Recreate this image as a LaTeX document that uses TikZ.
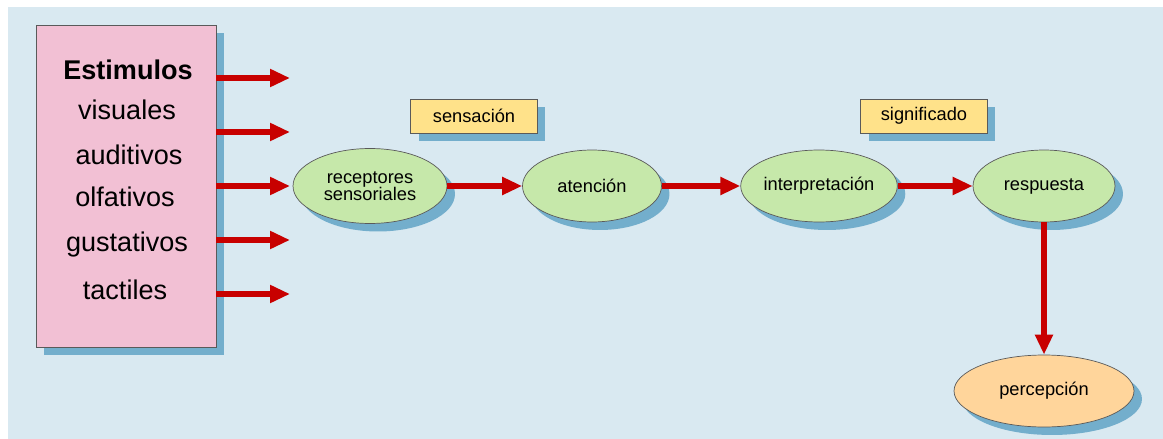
\documentclass[tikz,border=0pt]{standalone}
\usepackage{fontspec}
\setmainfont{Liberation Sans}
\usetikzlibrary{arrows.meta,shapes.geometric,shadows}

\definecolor{bgblue}{RGB}{217,233,241}
\definecolor{boxpink}{RGB}{242,192,212}
\definecolor{ovalgreen}{RGB}{198,232,170}
\definecolor{ovalorange}{RGB}{255,213,155}
\definecolor{labelyellow}{RGB}{255,226,138}
\definecolor{shadowblue}{RGB}{105,168,200}
\definecolor{arrowred}{RGB}{200,0,0}
\definecolor{edgegray}{RGB}{90,90,90}

\tikzset{
  shade/.style={drop shadow={shadow xshift=0.16cm, shadow yshift=-0.16cm, fill=shadowblue, opacity=0.9}},
  oval/.style={ellipse, draw=edgegray, fill=ovalgreen, inner sep=0pt, shade,
    font=\fontsize{10.4}{12}\selectfont, align=center},
  tag/.style={rectangle, draw=edgegray, fill=labelyellow, inner sep=0pt, shade,
    minimum width=2.54cm, minimum height=0.68cm, font=\fontsize{10.4}{12}\selectfont},
  stim/.style={font=\fontsize{15.4}{18}\selectfont, text height=1.5ex, text depth=0.25ex},
  flow/.style={draw=arrowred, line width=0.12cm, -{Triangle[length=0.4cm, width=0.34cm]}},
}

\begin{document}
\begin{tikzpicture}[x=0.02cm, y=-0.02cm]

% Background
\useasboundingbox (0, 0) rectangle (1163, 439);
\fill[bgblue] (8, 7) rectangle (1163, 439);

% Stimulus box
\node[rectangle, draw=edgegray, fill=boxpink, shade, minimum width=3.6cm, minimum height=6.44cm] (estimulos) at (126, 186) {};
\node[stim, font=\fontsize{15.4}{18}\selectfont\bfseries] (titulo) at (128, 74) {Estimulos};
\node[stim] (visuales) at (127, 114) {visuales};
\node[stim] (auditivos) at (129, 159) {auditivos};
\node[stim] (olfativos) at (125, 201) {olfativos};
\node[stim] (gustativos) at (127, 246) {gustativos};
\node[stim] (tactiles) at (125, 294) {tactiles};

% Arrows out of the box
\foreach \i/\yy in {1/78, 2/132, 3/186, 4/240, 5/294} {
    \coordinate (salida\i) at (290, \yy);
    \draw[flow] (estimulos.east |- salida\i) -- (salida\i);
}

% Labels
\node[tag] (sensacion) at (474, 116) {sensación};
\node[tag] (significado) at (924, 116) {significado};

% Process chain
\node[oval, minimum width=3.08cm, minimum height=1.5cm] (receptores) at (370, 186) {receptores\\[-2pt]sensoriales};
\node[oval, minimum width=2.78cm, minimum height=1.44cm] (atencion) at (592, 186) {atención};
\node[oval, minimum width=3.1cm, minimum height=1.44cm] (interpretacion) at (819, 186) {interpretación};
\node[oval, minimum width=2.84cm, minimum height=1.44cm] (respuesta) at (1044, 186) {respuesta};
\node[oval, fill=ovalorange, minimum width=3.6cm, minimum height=1.44cm] (percepcion) at (1044, 391) {percepción};

% Connectors
\draw[flow] (receptores) -- (atencion);
\draw[flow] (atencion) -- (interpretacion);
\draw[flow] (interpretacion) -- (respuesta);
\draw[flow] (respuesta) -- (percepcion);

\end{tikzpicture}
\end{document}
